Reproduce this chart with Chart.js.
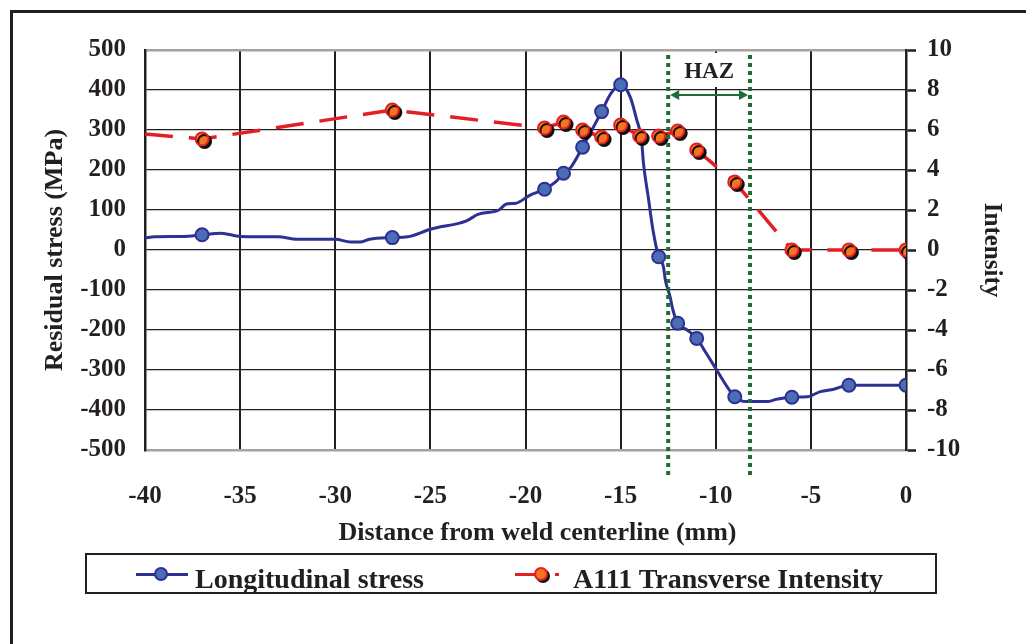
<!DOCTYPE html>
<html>
<head>
<meta charset="utf-8">
<script src="https://cdn.jsdelivr.net/npm/chart.js@4/dist/chart.umd.min.js"></script>
<style>
html,body{margin:0;padding:0;background:#fff;}
#wrap{position:relative;width:1026px;height:644px;overflow:hidden;background:#fff;}
#frame{position:absolute;left:10px;top:10px;width:1040px;height:660px;border-top:3px solid #231f20;border-left:3px solid #231f20;}
#c{position:absolute;left:0;top:0;}
#legend{position:absolute;left:85px;top:553px;width:848px;height:37px;border:2px solid #231f20;font:bold 28px "Liberation Serif","Times New Roman",serif;color:#231f20;}
.txt{position:absolute;top:10px;line-height:28px;white-space:nowrap;}
.ln{position:absolute;height:3px;top:18px;}
.mk{position:absolute;width:10px;height:10px;border-radius:50%;top:12px;}
</style>
</head>
<body>
<div id="wrap">
  <canvas id="c" width="1026" height="644"></canvas>
  <div id="frame"></div>
  <div id="legend">
    <div class="ln" style="left:49px;width:52px;background:#2E3192;"></div>
    <div class="mk" style="left:67px;background:#4A6DB5;border:2px solid #2E3192;"></div>
    <div class="txt" style="left:108px;">Longitudinal stress</div>
    <div class="ln" style="left:428px;width:20px;background:#E31E24;"></div>
    <div class="mk" style="left:447px;background:#F47421;border:2px solid #E31E24;box-shadow:2px 2px 0 #111;"></div>
    <div class="ln" style="left:468px;width:4px;background:#E31E24;"></div>
    <div class="txt" style="left:486px;">A111 Transverse Intensity</div>
  </div>
</div>
<script>
// ---- data ----
const xTickValues = [-40, -35, -30, -25, -20, -15, -10, -5, 0];
const stressTickValues = [-500, -400, -300, -200, -100, 0, 100, 200, 300, 400, 500];
const intensityTickValues = [-10, -8, -6, -4, -2, 0, 2, 4, 6, 8, 10];

// Longitudinal stress curve (mm, MPa)
const stressX = [-40, -39.5, -38, -37, -36, -35, -33, -32, -30, -29.2, -28.7, -28.2, -27, -26.2, -25, -23.1, -22.5, -21.4, -21, -20.5, -19.8, -19, -18.4, -18, -17.6, -17, -16.6, -16, -15.5, -15, -14.5, -14.15, -13.9, -13.8, -13.55, -13.3, -13, -12.75, -12.65, -12.4, -12.25, -12, -11.5, -11, -10.5, -9.95, -9.4, -9, -8.4, -7.3, -6.8, -6, -5.2, -4.5, -3.8, -3, -2, 0];
const stressY = [30, 33, 34, 38, 42, 34, 33, 27, 27, 20, 20, 27, 31, 33, 52, 73, 89, 100, 115, 117, 136, 152, 171, 192, 208, 257, 292, 346, 392, 413, 383, 325, 275, 217, 133, 50, -17, -42, -75, -117, -150, -183, -200, -221, -258, -300, -342, -367, -379, -379, -373, -368, -367, -354, -348, -338, -338, -338];
const stressMarkerX = [-37, -27, -19, -18, -17, -16, -15, -13, -12, -11, -9, -6, -3, 0];

// A111 transverse intensity (mm, intensity)
const intensityX = [-40, -37, -27, -19, -18, -17, -16, -15, -14, -13, -12, -11, -9, -6, -3, 0];
const intensityY = [5.8, 5.55, 7.0, 6.1, 6.4, 6.0, 5.65, 6.25, 5.7, 5.7, 5.95, 5.0, 3.4, 0, 0, 0];
const intensityMarkerX = [-37, -27, -19, -18, -17, -16, -15, -14, -13, -12, -11, -9, -6, -3, 0];

// HAZ boundaries (mm)
const hazBounds = [-12.5, -8.2];
const hazLabel = 'HAZ';
const xTitle = 'Distance from weld centerline (mm)';

// ---- build ----
const INK = '#231f20';
const FONT = '"Liberation Serif","Times New Roman",serif';
const stressData = stressX.map((x, i) => ({x, y: stressY[i]}));
const stressRadius = stressX.map(x => stressMarkerX.includes(x) ? 6.5 : 0);
const intData = intensityX.map((x, i) => ({x, y: intensityY[i]}));
const intRadius = intensityX.map(x => intensityMarkerX.includes(x) ? 6.5 : 0);

const shadowPlugin = {
  id: 'shadow',
  beforeDatasetDraw(chart, args) {
    if (chart.data.datasets[args.index].shadow) {
      const c = chart.ctx; c.save();
      c.shadowColor = 'rgba(10,10,10,0.95)';
      c.shadowOffsetX = 2.5; c.shadowOffsetY = 2.5; c.shadowBlur = 0.5;
    }
  },
  afterDatasetDraw(chart, args) {
    if (chart.data.datasets[args.index].shadow) chart.ctx.restore();
  }
};

const xTitlePlugin = {
  id: 'xTitle',
  afterDraw(chart) {
    const {ctx, chartArea} = chart;
    ctx.save();
    ctx.fillStyle = INK;
    ctx.font = 'bold 26px ' + FONT;
    ctx.textAlign = 'center';
    ctx.textBaseline = 'middle';
    ctx.fillText(xTitle, (chartArea.left + chartArea.right) / 2 + 12, 533);
    ctx.restore();
  }
};

const GREEN = '#1a6e36';
const hazPlugin = {
  id: 'haz',
  beforeDatasetsDraw(chart) {
    const {ctx, scales: {x}} = chart;
    const x1 = x.getPixelForValue(hazBounds[0]);
    const x2 = x.getPixelForValue(hazBounds[1]);
    ctx.save();
    ctx.fillStyle = '#fff';
    ctx.fillRect(x1 + 2, 53, x2 - x1 - 4, 34);
    ctx.fillStyle = INK;
    ctx.font = 'bold 23px ' + FONT;
    ctx.textAlign = 'center';
    ctx.textBaseline = 'middle';
    ctx.fillText(hazLabel, (x1 + x2) / 2, 72);
    ctx.restore();
  },
  afterDatasetsDraw(chart) {
    const {ctx, scales: {x}} = chart;
    const x1 = x.getPixelForValue(hazBounds[0]);
    const x2 = x.getPixelForValue(hazBounds[1]);
    ctx.save();
    ctx.strokeStyle = GREEN;
    ctx.lineWidth = 4;
    ctx.setLineDash([4, 4]);
    [x1, x2].forEach(px => {
      ctx.beginPath(); ctx.moveTo(px, 55); ctx.lineTo(px, 478); ctx.stroke();
    });
    ctx.setLineDash([]);
    const ay = 95;
    ctx.lineWidth = 2;
    ctx.beginPath(); ctx.moveTo(x1 + 4, ay); ctx.lineTo(x2 - 4, ay); ctx.stroke();
    ctx.fillStyle = GREEN;
    ctx.beginPath(); ctx.moveTo(x1 + 2, ay); ctx.lineTo(x1 + 11, ay - 5); ctx.lineTo(x1 + 11, ay + 5); ctx.closePath(); ctx.fill();
    ctx.beginPath(); ctx.moveTo(x2 - 2, ay); ctx.lineTo(x2 - 11, ay - 5); ctx.lineTo(x2 - 11, ay + 5); ctx.closePath(); ctx.fill();
    ctx.restore();
  }
};

const tickFont = {family: FONT, size: 25, weight: 'bold'};
const titleFont = {family: FONT, size: 26, weight: 'bold'};

new Chart(document.getElementById('c'), {
  type: 'line',
  data: {
    datasets: [
      {
        label: 'A111 Transverse Intensity markers',
        data: intData, yAxisID: 'y2', showLine: false, shadow: true,
        pointRadius: intRadius, pointBackgroundColor: '#F47421',
        pointBorderColor: '#E31E24', pointBorderWidth: 2, order: 0
      },
      {
        label: 'A111 Transverse Intensity',
        data: intData, yAxisID: 'y2', borderColor: '#E31E24', borderWidth: 3.5,
        borderDash: [28, 16], pointRadius: 0, tension: 0, order: 1
      },
      {
        label: 'Longitudinal stress',
        data: stressData, yAxisID: 'y', borderColor: '#2E3192', borderWidth: 3,
        cubicInterpolationMode: 'monotone',
        pointRadius: stressRadius, pointBackgroundColor: '#4A6DB5',
        pointBorderColor: '#2E3192', pointBorderWidth: 2, order: 2
      }
    ]
  },
  options: {
    responsive: false,
    animation: false,
    events: [],
    layout: {padding: {top: 50, left: 0, right: 0, bottom: 0}},
    plugins: {legend: {display: false}, tooltip: {enabled: false}},
    scales: {
      x: {
        type: 'linear', position: 'bottom', min: -40, max: 0,
        afterBuildTicks: s => { s.ticks = xTickValues.map(v => ({value: v})); },
        afterFit: s => { s.height = 194; },
        grid: {color: INK, lineWidth: 2, drawTicks: false},
        border: {display: false},
        ticks: {color: INK, font: tickFont, padding: 32, maxRotation: 0, autoSkip: false},
        title: {display: false}
      },
      y: {
        type: 'linear', position: 'left', min: -500, max: 500,
        afterBuildTicks: s => { s.ticks = stressTickValues.map(v => ({value: v})); },
        afterFit: s => { s.width = 145; },
        grid: {
          color: c => Math.abs(c.tick.value) === 500 ? '#a3a3a3' : INK,
          lineWidth: c => Math.abs(c.tick.value) === 500 ? 2.5 : 1.3,
          drawTicks: false
        },
        border: {color: INK, width: 2.5},
        ticks: {color: INK, font: tickFont, padding: 19},
        title: {display: true, text: 'Residual stress (MPa)', color: INK, font: titleFont, padding: {top: 40, bottom: 0}}
      },
      y2: {
        type: 'linear', position: 'right', min: -10, max: 10,
        afterBuildTicks: s => { s.ticks = intensityTickValues.map(v => ({value: v})); },
        afterFit: s => { s.width = 120; },
        grid: {drawOnChartArea: false, drawTicks: true, tickLength: 10, tickColor: INK, tickWidth: 2.5},
        border: {color: INK, width: 2.5},
        ticks: {color: INK, font: tickFont, padding: 11},
        title: {display: true, text: 'Intensity', color: INK, font: {family: FONT, size: 25, weight: 'bold'}, padding: {top: 20, bottom: 0}}
      }
    }
  },
  plugins: [shadowPlugin, hazPlugin, xTitlePlugin]
});
</script>
</body>
</html>
